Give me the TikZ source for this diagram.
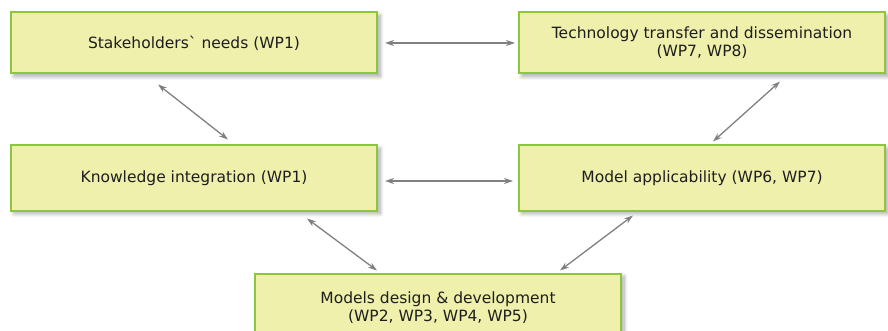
\documentclass[tikz,border=0pt]{standalone}
\usepackage{fontspec}
\setmainfont{DejaVu Sans}
\usepackage{xcolor}
\definecolor{wpfill}{RGB}{238, 240, 172}
\definecolor{wpline}{RGB}{140, 198, 63}
\definecolor{linkgray}{RGB}{128, 128, 128}
\definecolor{wptext}{RGB}{30, 30, 30}
\usepackage{tikz}
\usetikzlibrary{arrows.meta,positioning,shadows,shadows.blur,calc}

\begin{document}
\begin{tikzpicture}[
    x=1pt, y=-1pt,
    wpbox/.style={rectangle, draw=wpline, line width=2pt, fill=wpfill, text=wptext, minimum width=366pt, minimum height=61pt, align=center, font=\fontsize{15.5}{18}\selectfont, blur shadow={shadow xshift=3pt, shadow yshift=-3pt, shadow blur steps=8, shadow blur radius=4pt, shadow opacity=35}},
    link/.style={{Stealth[length=9pt,width=6pt]}-{Stealth[length=9pt,width=6pt]}, linkgray, line width=1.3pt}
]
\useasboundingbox (0,0) rectangle (888,331);

\node[wpbox] (needs) at (194,43) {Stakeholders\textasciigrave{} needs (WP1)};
\node[wpbox, right=140pt of needs] (transfer) {Technology transfer and dissemination\\(WP7, WP8)};
\node[wpbox, below=70pt of needs, minimum height=65pt] (knowledge) {Knowledge integration (WP1)};
\node[wpbox, below=70pt of transfer, minimum height=65pt] (applic) {Model applicability (WP6, WP7)};
\node[wpbox, below=61pt of $(knowledge.south east)!0.5!(applic.south west)$, xshift=-10pt, anchor=north, minimum height=68pt] (models) {Models design \& development\\(WP2, WP3, WP4, WP5)};

\draw[link] ([xshift=7pt]needs.east) -- ([xshift=-3pt]transfer.west);
\draw[link] ([xshift=-36pt,yshift=-10pt]needs.south) -- ([xshift=34pt,yshift=5pt]knowledge.north);
\draw[link] ([xshift=78pt,yshift=-7pt]transfer.south) -- ([xshift=11pt,yshift=3pt]applic.north);
\draw[link] ([xshift=7pt,yshift=-3pt]knowledge.east) -- ([xshift=-5pt,yshift=-3pt]applic.west);
\draw[link] ([xshift=113pt,yshift=-7pt]knowledge.south) -- ([xshift=-61pt,yshift=2pt]models.north);
\draw[link] ([xshift=-69pt,yshift=-4pt]applic.south) -- ([xshift=122pt,yshift=2pt]models.north);

\end{tikzpicture}
\end{document}
